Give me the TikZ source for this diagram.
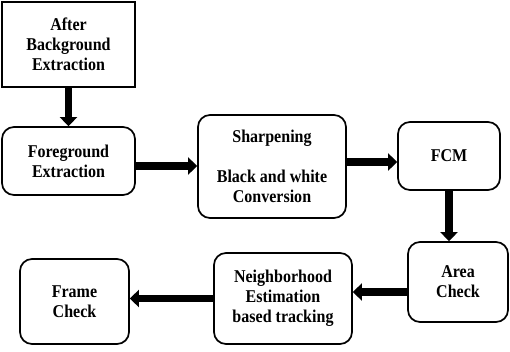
\documentclass[tikz,border=0pt]{standalone}
\usepackage{fontspec}
\setmainfont[FakeStretch=0.89]{Liberation Serif}
\usetikzlibrary{positioning,arrows.meta}

\begin{document}
\begin{tikzpicture}[x=1pt,y=-1pt,every node/.style={font=\fontsize{18}{20}\selectfont\bfseries}]
    \tikzstyle{b}=[rectangle,draw,line width=1.7pt,align=center,inner sep=0pt];
    \tikzstyle{r}=[b,rounded corners=12pt];
    \tikzstyle{flow}=[line width=7.5pt,-{Triangle[length=9pt,width=17pt]}];
    \useasboundingbox (0,0) rectangle (510,351);
    \node[b,minimum width=133pt,minimum height=85pt] (abe) at (68.5,44.5) {After\\Background\\Extraction};
    \node[r,minimum width=133pt,minimum height=68pt] (fe) at (68.5,161) {Foreground\\Extraction};
    \node[r,minimum width=148pt,minimum height=103pt] (ss) at (272,166.5) {Sharpening\\[20pt]Black and white\\Conversion};
    \node[r,minimum width=102pt,minimum height=68pt] (fcm) at (449,156) {FCM};
    \node[r,minimum width=100pt,minimum height=80pt] (ac) at (458,282) {Area\\Check};
    \node[r,minimum width=138pt,minimum height=91pt] (ne) at (283,298.5) {Neighborhood\\Estimation\\based tracking};
    \node[r,minimum width=109pt,minimum height=85pt] (fc) at (74.5,301.5) {Frame\\Check};
    \draw[flow] (abe) -- (fe);
    \draw[flow] ([yshift=-5pt]fe.east) -- ([yshift=-5pt]fe.east -| ss.west);
    \draw[flow] ([yshift=-6pt]fcm.west -| ss.east) -- ([yshift=-6pt]fcm.west);
    \draw[flow] (fcm.south) -- (fcm.south |- ac.north);
    \draw[flow] ([yshift=-10pt]ac.west) -- ([yshift=-10pt]ac.west -| ne.east);
    \draw[flow] (ne.west) -- (ne.west -| fc.east);
  \end{tikzpicture}
\end{document}
